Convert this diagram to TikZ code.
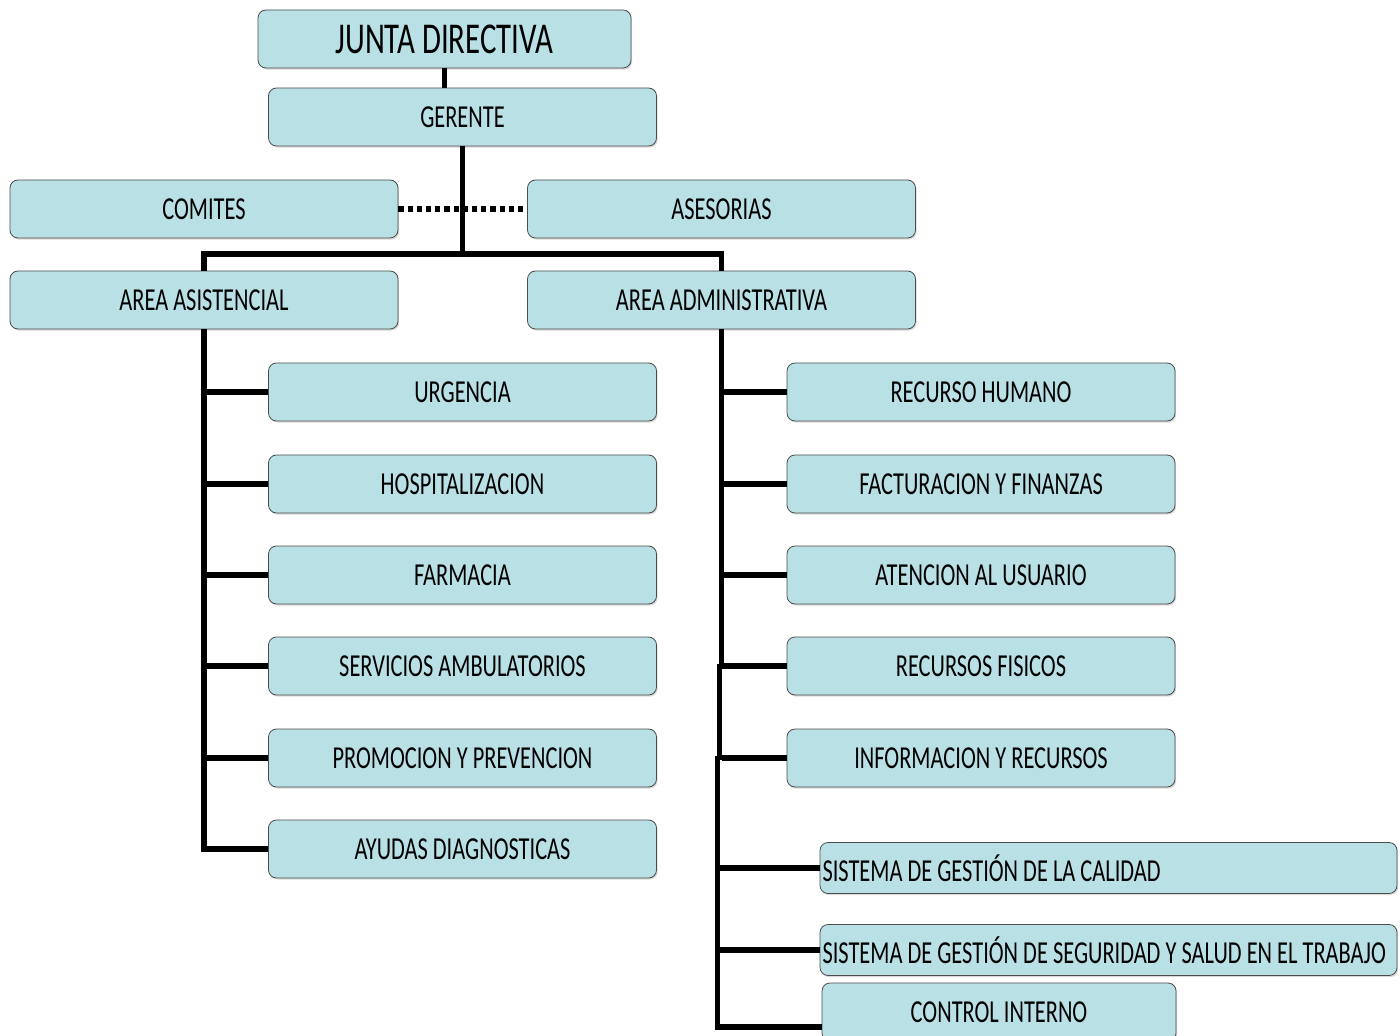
\documentclass[tikz,border=0pt]{standalone}
\usepackage{fontspec}
\setmainfont{Carlito}[FakeStretch=0.70]
\usetikzlibrary{shadows}
\definecolor{boxcyan}{RGB}{185,224,228}

\begin{document}
\begin{tikzpicture}[
	x=0.5pt, y=-0.5pt,
	unit/.style={ draw=black!70, thin, rounded corners=4pt, fill=boxcyan, drop shadow={shadow xshift=0.6pt, shadow yshift=-0.8pt, opacity=0.3}, minimum width=194pt, minimum height=29pt, inner sep=0pt, font=\fontsize{16}{18}\selectfont },
	unitw/.style={ unit, minimum width=288.5pt, minimum height=25.5pt },
	link/.style={ line width=2.6pt },
	linkd/.style={ line width=2.6pt, dash pattern=on 2.6pt off 2pt }
]
\useasboundingbox (0,0) rectangle (1400,1036);

\node[unit, minimum width=186.5pt, font=\fontsize{22}{24}\selectfont] at (444.5,39) (junta) {JUNTA DIRECTIVA};
\node[unit] at (462.5,117) (gerente) {GERENTE};
\draw[link] (junta.south) -- (junta.south |- gerente.north);

\node[unit] at (204,209) (comites) {COMITES};
\node[unit] at (721.5,209) (asesorias) {ASESORIAS};
\draw[linkd] (comites.east) -- (asesorias.west);

\node[unit] at (204,300) (asist) {AREA ASISTENCIAL};
\node[unit] at (721.5,300) (admin) {AREA ADMINISTRATIVA};
\coordinate (busl) at (204,254);
\coordinate (busr) at (721.5,254);
\draw[link] (gerente.south) -- (gerente.south |- busl);
\draw[link] (asist.north) -- (busl) -- (busr) -- (admin.north);

\begin{scope}[xshift=0pt]
	\node[unit] at (462.5,392) (urgencia) {URGENCIA};
	\node[unit] at (462.5,484) (hosp) {HOSPITALIZACION};
	\node[unit] at (462.5,575) (farmacia) {FARMACIA};
	\node[unit] at (462.5,666) (servicios) {SERVICIOS AMBULATORIOS};
	\node[unit] at (462.5,758) (promocion) {PROMOCION Y PREVENCION};
	\node[unit] at (462.5,849) (ayudas) {AYUDAS DIAGNOSTICAS};
	\draw[link] (asist.south) |- (ayudas.west);
	\foreach \n in {urgencia,hosp,farmacia,servicios,promocion}
		\draw[link] (\n.west) -- (\n.west -| asist.south);
\end{scope}

\begin{scope}[xshift=0pt]
	\node[unit] at (981,392) (humano) {RECURSO HUMANO};
	\node[unit] at (981,484) (factura) {FACTURACION Y FINANZAS};
	\node[unit] at (981,575) (atencion) {ATENCION AL USUARIO};
	\node[unit] at (981,666) (fisicos) {RECURSOS FISICOS};
	\node[unit] at (981,758) (info) {INFORMACION Y RECURSOS};
	\node[unitw] at (1108.5,868) (calidad) {\makebox[286pt][l]{SISTEMA DE GESTIÓN DE LA CALIDAD}};
	\node[unitw] at (1108.5,950) (sst) {\makebox[286pt][l]{SISTEMA DE GESTIÓN DE SEGURIDAD Y SALUD EN EL TRABAJO}};
	\node[unit, minimum width=177pt] at (999,1012) (control) {CONTROL INTERNO};
	\coordinate (spine) at ([xshift=-2pt]admin.south);
	\draw[link] (admin.south) -- ([yshift=-1pt]admin.south |- fisicos.west);
	\draw[link] ([xshift=-1pt,yshift=1pt]admin.south |- fisicos.west) -- ([xshift=-1pt,yshift=-1pt]admin.south |- info.west);
	\draw[link] ([yshift=1pt]spine |- info.west) |- ([yshift=-7.5pt]control.west);
	\foreach \n in {humano,factura,atencion,fisicos,info}
		\draw[link] (\n.west) -- (\n.west -| admin.south);
	\foreach \n in {calidad,sst}
		\draw[link] (\n.west) -- (\n.west -| spine);
\end{scope}

\end{tikzpicture}
\end{document}
